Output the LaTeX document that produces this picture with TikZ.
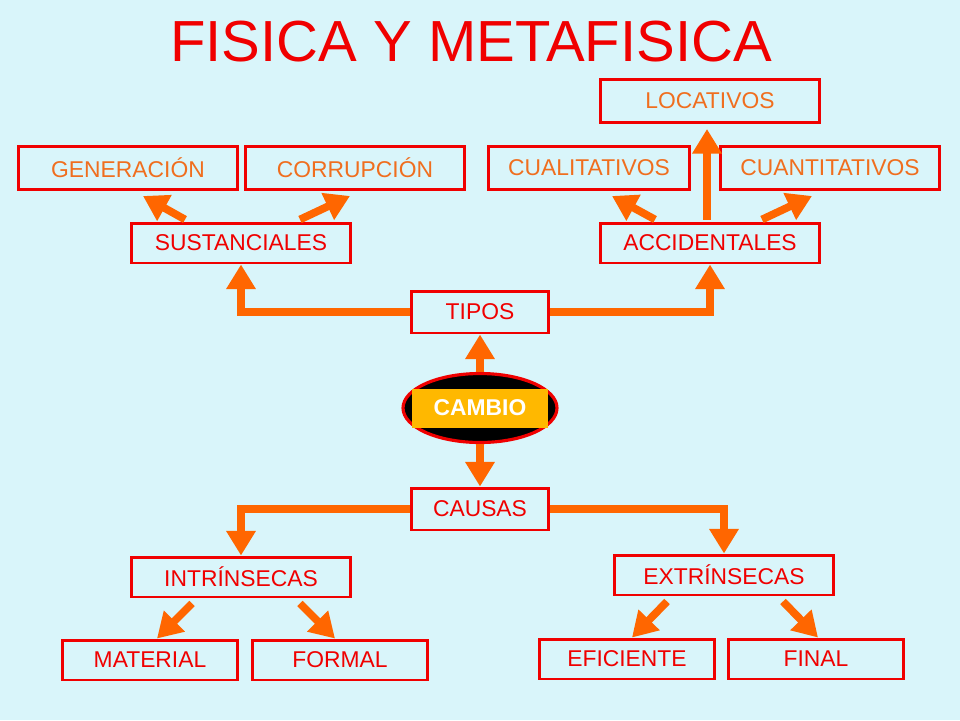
\documentclass[tikz,border=0pt]{standalone}
\usepackage{fontspec}
\setmainfont{Liberation Sans}
\usetikzlibrary{arrows.meta,shapes.geometric}
\definecolor{fondo}{RGB}{217,245,250}
\definecolor{rojo}{RGB}{240,0,0}
\definecolor{naranja}{RGB}{255,102,0}
\definecolor{textonar}{RGB}{240,110,30}
\definecolor{oro}{RGB}{255,184,0}
\tikzset{
  caja/.style={draw=rojo, line width=1.7pt, text=rojo, inner sep=0pt,
    minimum width=4.4cm, minimum height=0.8cm, font=\fontsize{13}{15}\selectfont},
  hoja/.style={caja, text=textonar, minimum height=0.86cm},
  baja/.style={caja, minimum width=3.5cm},
  centro/.style={caja, minimum width=2.74cm, minimum height=0.84cm},
  flecha/.style={draw=naranja, line width=4.4pt}
}

\begin{document}
\begin{tikzpicture}[x=0.02cm, y=-0.02cm,
% arrow heads for all lines
-{Triangle[width=16pt, length=14pt]}]
\fill[fondo] (0,0) rectangle (960,720);
% title
\node[text=rojo, font=\fontsize{33}{36}\selectfont] (titulo) at (471,42) {FISICA Y METAFISICA};
% upper boxes
\node[hoja] (loc) at (710,101) {LOCATIVOS};
\node[hoja] (gen) at (128,168) {GENERACIÓN};
\node[hoja] (corr) at (355,168) {CORRUPCIÓN};
\node[hoja, minimum width=4.04cm] (cual) at (589,168) {CUALITATIVOS};
\node[hoja] (cuant) at (830,168) {CUANTITATIVOS};
\node[caja] (sust) at (241,243) {SUSTANCIALES};
\node[caja] (acc) at (710,243) {ACCIDENTALES};
\node[centro] (tipos) at (480,312) {TIPOS};
% the centre
\node[ellipse, draw=rojo, line width=1.8pt, fill=black,
  minimum width=3.08cm, minimum height=1.38cm] (cambio) at (480,408) {};
\node[fill=oro, text=white, minimum width=2.72cm, minimum height=0.78cm,
  inner sep=0pt, font=\fontsize{13}{15}\selectfont\bfseries] (cambiotxt) at (480,408) {CAMBIO};
% lower boxes
\node[centro] (causas) at (480,509) {CAUSAS};
\node[caja] (intr) at (241,577) {INTRÍNSECAS};
\node[caja] (extr) at (724,575) {EXTRÍNSECAS};
\node[baja] (mat) at (150,660) {MATERIAL};
\node[baja] (form) at (340,660) {FORMAL};
\node[baja] (efi) at (627,659) {EFICIENTE};
\node[baja] (fin) at (816,659) {FINAL};
% straight arrows out of CAMBIO
\draw[flecha] (cambio.north) -- (tipos.south);
\draw[flecha] (cambio.south) -- (causas.north);
% elbow arrows
\draw[flecha] (tipos.west) -| (sust.south);
\draw[flecha] (tipos.east) -| (acc.south);
\draw[flecha] (causas.west) -| (intr.north);
\draw[flecha] (causas.east) -| (extr.north);
% arrows going up
\foreach \a/\da/\b/\db in {sust/-1.12/gen/0.3, sust/1.18/corr/-0.1,
    acc/-1.1/cual/0.46, acc/1.04/cuant/-0.36, acc/-0.06/loc/-0.06} {
  \draw[flecha] ([xshift=\da cm, yshift=0.04cm]\a.north) -- ([xshift=\db cm, yshift=-0.1cm]\b.south);
}
% arrows going down
\foreach \a/\da/\b/\db in {intr/-0.98/mat/0.14, intr/1.18/form/-0.1,
    extr/-1.14/efi/0.1, extr/1.18/fin/0.04} {
  \draw[flecha] ([xshift=\da cm, yshift=-0.1cm]\a.south) -- ([xshift=\db cm]\b.north);
}
\end{tikzpicture}
\end{document}
